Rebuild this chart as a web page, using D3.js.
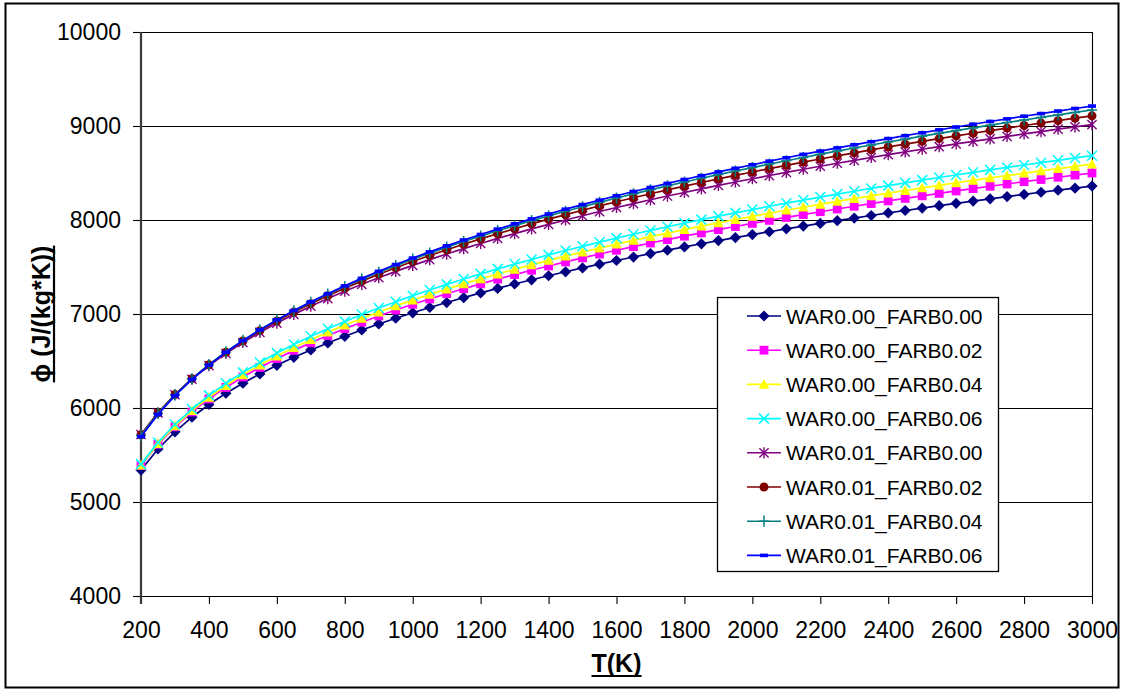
<!DOCTYPE html>
<html>
<head>
<meta charset="utf-8">
<script src="https://cdn.jsdelivr.net/npm/d3@7"></script>
<style>
  html, body { margin: 0; padding: 0; background: #ffffff; }
  svg { display: block; font-family: "Liberation Sans", Arial, Helvetica, sans-serif; }
</style>
</head>
<body>
<svg id="chart" width="1125" height="691"></svg>
<script>
// Temperature grid, K
const temperatures = [200,250,300,350,400,450,500,550,600,650,700,750,800,850,900,950,1000,
  1050,1100,1150,1200,1250,1300,1350,1400,1450,1500,1550,1600,1650,1700,1750,1800,1850,1900,1950,2000,
  2050,2100,2150,2200,2250,2300,2350,2400,2450,2500,2550,2600,2650,2700,2750,2800,2850,2900,2950,3000];

// Entropy function phi, J/(kg*K), per water-air ratio / fuel-air ratio
const war000_farb000 = [5340,5564,5747,5902,6037,6157,6264,6363,6454,6539,6618,6692,6763,6830,6894,6955,7013,
  7069,7122,7174,7224,7272,7319,7364,7407,7449,7490,7530,7569,7606,7643,7679,7714,7747,7781,7813,7845,
  7875,7906,7935,7964,7993,8020,8048,8075,8101,8127,8152,8177,8201,8225,8249,8272,8295,8317,8339,8361];
const war000_farb002 = [5388,5614,5800,5958,6097,6219,6330,6432,6525,6613,6694,6771,6844,6913,6979,7042,7103,
  7160,7216,7269,7321,7371,7419,7465,7511,7554,7597,7638,7678,7717,7755,7792,7828,7863,7898,7931,7964,
  7996,8027,8058,8088,8117,8146,8175,8203,8230,8257,8283,8309,8334,8359,8383,8408,8431,8455,8478,8500];
const war000_farb004 = [5393,5621,5810,5972,6113,6239,6353,6457,6553,6643,6727,6807,6882,6953,7021,7086,7148,
  7208,7265,7321,7374,7425,7475,7523,7570,7615,7659,7701,7743,7783,7823,7861,7898,7934,7970,8005,8039,
  8072,8104,8136,8167,8198,8228,8257,8286,8314,8342,8369,8396,8422,8448,8473,8498,8523,8547,8571,8594];
const war000_farb006 = [5403,5633,5825,5989,6134,6262,6379,6485,6584,6676,6763,6844,6921,6994,7064,7131,7195,
  7256,7315,7372,7427,7480,7531,7580,7629,7675,7720,7764,7807,7848,7889,7928,7967,8004,8041,8076,8111,
  8146,8179,8212,8244,8275,8306,8336,8366,8395,8424,8452,8479,8507,8533,8559,8585,8610,8635,8660,8684];
const war001_farb000 = [5718,5948,6141,6306,6451,6580,6697,6804,6903,6996,7083,7164,7242,7316,7386,7453,7517,
  7579,7638,7695,7750,7804,7855,7905,7953,8000,8045,8090,8133,8174,8215,8255,8293,8331,8368,8404,8439,
  8473,8507,8540,8572,8604,8635,8665,8695,8724,8753,8781,8809,8837,8863,8890,8916,8941,8966,8991,9015];
const war001_farb002 = [5715,5948,6143,6312,6460,6593,6713,6823,6925,7020,7110,7194,7274,7350,7423,7492,7558,
  7622,7683,7742,7799,7854,7907,7959,8009,8057,8104,8150,8194,8237,8279,8320,8360,8399,8438,8475,8511,
  8547,8582,8616,8649,8682,8714,8746,8777,8807,8837,8866,8895,8923,8951,8978,9005,9031,9057,9083,9108];
const war001_farb004 = [5708,5942,6140,6311,6462,6597,6719,6832,6936,7033,7125,7211,7292,7370,7444,7515,7583,
  7648,7711,7771,7829,7886,7940,7993,8044,8093,8141,8188,8234,8278,8321,8363,8404,8444,8483,8521,8558,
  8595,8630,8665,8700,8733,8766,8798,8830,8861,8892,8922,8951,8980,9009,9037,9064,9091,9118,9144,9170];
const war001_farb006 = [5695,5931,6131,6304,6456,6593,6717,6831,6937,7036,7129,7216,7299,7379,7454,7526,7595,
  7661,7725,7787,7846,7903,7959,8012,8064,8115,8164,8211,8258,8303,8346,8389,8431,8472,8512,8550,8588,
  8626,8662,8698,8733,8767,8800,8833,8866,8897,8928,8959,8989,9019,9048,9076,9104,9132,9159,9186,9212];

const seriesNames = ["WAR0.00_FARB0.00","WAR0.00_FARB0.02","WAR0.00_FARB0.04","WAR0.00_FARB0.06",
  "WAR0.01_FARB0.00","WAR0.01_FARB0.02","WAR0.01_FARB0.04","WAR0.01_FARB0.06"];
const seriesColors = ["#000080","#ff00ff","#ffff00","#00ffff","#800080","#800000","#008080","#0000ff"];
const seriesMarkers = ["diamond","square","triangle","x","star","circle","plus","dash"];
const seriesValues = [war000_farb000, war000_farb002, war000_farb004, war000_farb006,
  war001_farb000, war001_farb002, war001_farb004, war001_farb006];

const xTicks = [200,400,600,800,1000,1200,1400,1600,1800,2000,2200,2400,2600,2800,3000];
const yTicks = [4000,5000,6000,7000,8000,9000,10000];
const xTitle = "T(K)";
const yTitle = "\u03D5 (J/(kg*K))";

const svg = d3.select("#chart");
const plot = { left: 141, right: 1092, top: 32, bottom: 596 };

const x = d3.scaleLinear().domain([200, 3000]).range([plot.left, plot.right]);
const y = d3.scaleLinear().domain([4000, 10000]).range([plot.bottom, plot.top]);

// outer chart frame
svg.append("rect")
  .attr("x", 5.5).attr("y", 3.5).attr("width", 1113).attr("height", 684)
  .attr("fill", "#ffffff").attr("stroke", "#000").attr("stroke-width", 2);

// horizontal gridlines
svg.append("g").selectAll("line")
  .data(yTicks.filter(v => v > 4000))
  .join("line")
  .attr("x1", plot.left).attr("x2", plot.right)
  .attr("y1", d => Math.round(y(d)) + 0.5).attr("y2", d => Math.round(y(d)) + 0.5)
  .attr("stroke", "#000").attr("stroke-width", 1.1);

// right border of the plot area
svg.append("line")
  .attr("x1", plot.right + 0.5).attr("x2", plot.right + 0.5)
  .attr("y1", plot.top).attr("y2", plot.bottom)
  .attr("stroke", "#000").attr("stroke-width", 1.1);

// axes
const yAxis = d3.axisLeft(y).tickValues(yTicks).tickSize(8).tickPadding(12).tickSizeOuter(0)
  .tickFormat(d3.format("d"));
const gy = svg.append("g").attr("transform", `translate(${plot.left},0)`).call(yAxis);
gy.select(".domain").remove();
gy.selectAll(".tick line").attr("stroke", "#000").attr("stroke-width", 1.1);
gy.selectAll(".tick text").attr("font-size", 23).attr("fill", "#000")
  .attr("font-family", "'Liberation Sans', Arial, sans-serif");

const xAxis = d3.axisBottom(x).tickValues(xTicks).tickSize(8).tickPadding(18).tickSizeOuter(0)
  .tickFormat(d3.format("d"));
const gx = svg.append("g").attr("transform", `translate(0,${plot.bottom})`).call(xAxis);
gx.select(".domain").remove();
gx.selectAll(".tick line").attr("stroke", "#000").attr("stroke-width", 1.1);
gx.selectAll(".tick text").attr("font-size", 23).attr("fill", "#000")
  .attr("font-family", "'Liberation Sans', Arial, sans-serif");

// axis lines
svg.append("line")
  .attr("x1", plot.left).attr("x2", plot.right + 1)
  .attr("y1", plot.bottom + 0.5).attr("y2", plot.bottom + 0.5)
  .attr("stroke", "#000").attr("stroke-width", 1.2);
svg.append("line")
  .attr("x1", plot.left).attr("x2", plot.left)
  .attr("y1", plot.top).attr("y2", plot.bottom + 8)
  .attr("stroke", "#3a3a3a").attr("stroke-width", 2.2);

// marker shapes
function drawMarker(sel, type, color) {
  switch (type) {
    case "diamond":
      sel.append("path").attr("d", "M0,-5.6L5.6,0L0,5.6L-5.6,0Z").attr("fill", color);
      break;
    case "square":
      sel.append("rect").attr("x", -4.4).attr("y", -4.4).attr("width", 8.8).attr("height", 8.8).attr("fill", color);
      break;
    case "triangle":
      sel.append("path").attr("d", "M0,-5.4L5.2,4.4L-5.2,4.4Z").attr("fill", color);
      break;
    case "x":
      sel.append("path").attr("d", "M-5,-5L5,5M-5,5L5,-5").attr("stroke", color).attr("stroke-width", 1.5).attr("fill", "none");
      break;
    case "star":
      sel.append("path").attr("d", "M-4.6,-4.6L4.6,4.6M-4.6,4.6L4.6,-4.6M0,-5.6L0,5.6").attr("stroke", color).attr("stroke-width", 1.4).attr("fill", "none");
      break;
    case "circle":
      sel.append("circle").attr("r", 4.5).attr("fill", color);
      break;
    case "plus":
      sel.append("path").attr("d", "M-5,0L5,0M0,-5.6L0,5.6").attr("stroke", color).attr("stroke-width", 1.5).attr("fill", "none");
      break;
    case "dash":
      sel.append("rect").attr("x", -4).attr("y", -1.8).attr("width", 8).attr("height", 3.6).attr("fill", color);
      break;
  }
}

// series: line then markers, in order
const line = d3.line().x(d => x(d[0])).y(d => y(d[1]));
seriesValues.forEach((vals, i) => {
  const pts = temperatures.map((t, k) => [t, vals[k]]);
  const g = svg.append("g").attr("class", "series");
  g.append("path").datum(pts).attr("d", line)
    .attr("fill", "none").attr("stroke", seriesColors[i]).attr("stroke-width", 1.7);
  g.selectAll("g.pt").data(pts).join("g").attr("class", "pt")
    .attr("transform", d => `translate(${x(d[0])},${y(d[1])})`)
    .each(function () { drawMarker(d3.select(this), seriesMarkers[i], seriesColors[i]); });
});

// legend
const legend = svg.append("g");
legend.append("rect")
  .attr("x", 717.5).attr("y", 297.5).attr("width", 281).attr("height", 274)
  .attr("fill", "#ffffff").attr("stroke", "#000").attr("stroke-width", 1.3);
seriesNames.forEach((name, i) => {
  const cy = 316 + i * 34.2;
  const item = legend.append("g");
  item.append("line").attr("x1", 747).attr("x2", 781).attr("y1", cy).attr("y2", cy)
    .attr("stroke", seriesColors[i]).attr("stroke-width", 1.6);
  drawMarker(item.append("g").attr("transform", `translate(764,${cy})`), seriesMarkers[i], seriesColors[i]);
  item.append("text").attr("x", 786).attr("y", cy).attr("dy", "0.36em")
    .attr("font-size", 21).attr("fill", "#000").text(name);
});

// axis titles, bold with a solid underline
function underlinedTitle(transform, label) {
  const g = svg.append("g").attr("transform", transform);
  const t = g.append("text")
    .attr("x", 0).attr("y", 0)
    .attr("text-anchor", "middle").attr("font-size", 25).attr("font-weight", "bold")
    .attr("fill", "#000").text(label);
  const w = t.node().getComputedTextLength();
  g.append("line")
    .attr("x1", -w / 2).attr("x2", w / 2).attr("y1", 4).attr("y2", 4)
    .attr("stroke", "#000").attr("stroke-width", 2.2);
}
underlinedTitle(`translate(${(plot.left + plot.right) / 2},672)`, xTitle);
underlinedTitle(`translate(50,${(plot.top + plot.bottom) / 2}) rotate(-90)`, yTitle);
</script>
</body>
</html>
